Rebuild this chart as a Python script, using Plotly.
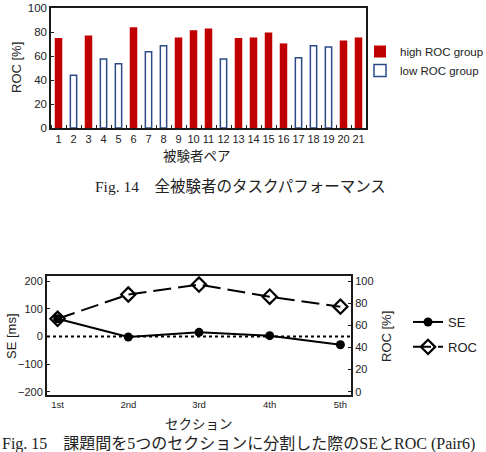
import plotly.graph_objects as go

# ---- data: Fig. 14 ----
pairs = list(range(1, 22))
roc_pair = [75, 44, 77, 57.5, 53.5, 84, 63.5, 68.5, 75.5, 81.5, 83, 57.5,
            75, 75.5, 79.5, 70.5, 58.5, 68.5, 67.5, 73, 75.5]
group = ["high", "low", "high", "low", "low", "high", "low", "low", "high", "high",
         "high", "low", "high", "high", "high", "high", "low", "low", "low", "high", "high"]
yticks_top = [0, 20, 40, 60, 80, 100]

# ---- data: Fig. 15 ----
sections = ["1st", "2nd", "3rd", "4th", "5th"]
se_ms = [64, -2, 15, 3, -30]
roc_sec = [66, 88, 97, 86, 77]
se_ticks = [-200, -100, 0, 100, 200]
roc_ticks = [0, 20, 40, 60, 80, 100]

W, H = 486, 452
def px(x): return x / W
def py(y): return 1 - y / H

SANS = "Liberation Sans, Arial, sans-serif"
JP = "Noto Sans CJK JP"
SERIF = "Liberation Serif, Noto Sans CJK JP"
RED = "#C00000"
NAVY = "#2B4A86"
AX = "#1a1a1a"

fig = go.Figure()

hx = [p for p, g in zip(pairs, group) if g == "high"]
hy = [v for v, g in zip(roc_pair, group) if g == "high"]
lx = [p for p, g in zip(pairs, group) if g == "low"]
ly = [v for v, g in zip(roc_pair, group) if g == "low"]

fig.add_trace(go.Bar(x=hx, y=hy, name="high ROC group", width=0.5,
                     marker=dict(color=RED, line=dict(color=RED, width=0)),
                     xaxis="x", yaxis="y", legend="legend"))
fig.add_trace(go.Bar(x=lx, y=ly, name="low ROC group", width=0.42,
                     marker=dict(color="white", line=dict(color=NAVY, width=1.5)),
                     xaxis="x", yaxis="y", legend="legend"))

fig.add_trace(go.Scatter(x=sections, y=se_ms, name="SE", mode="lines+markers",
                         line=dict(color="black", width=2),
                         marker=dict(symbol="circle", size=9, color="black"),
                         xaxis="x2", yaxis="y2", legend="legend2", legendgroup="se"))
fig.add_trace(go.Scatter(x=sections, y=roc_sec, name="ROC", mode="lines+markers",
                         line=dict(color="black", width=2, dash="18px,7px"),
                         marker=dict(symbol="diamond-open", size=11, color="black",
                                     line=dict(width=2.2, color="black")),
                         xaxis="x2", yaxis="y3", legend="legend2", legendgroup="roc"))

fig.add_shape(type="line", xref="x2 domain", yref="y2", x0=0, x1=1, y0=0, y1=0,
              line=dict(color="black", width=2, dash="dot"))

tickfont = dict(family=SANS, size=11, color="#222")
fig.update_layout(
    width=W, height=H, margin=dict(l=0, r=0, t=0, b=0, autoexpand=False),
    paper_bgcolor="white", plot_bgcolor="white", barmode="overlay",
    xaxis=dict(domain=[px(51), px(366)], range=[0.5, 21.5], tickmode="array",
               tickvals=pairs, ticks="", showgrid=False, zeroline=False,
               showline=True, mirror=True, linecolor=AX, linewidth=1.5,
               tickfont=tickfont, tickangle=0, ticklabelstandoff=0,
               automargin=False,
               minor=dict(ticks="inside", tick0=0.5, dtick=1, ticklen=3,
                          tickcolor=AX, showgrid=False)),
    yaxis=dict(domain=[py(128), py(8)], range=[0, 100], tickvals=yticks_top,
               ticks="inside", ticklen=3, tickcolor=AX, showgrid=False,
               zeroline=False, showline=True, mirror=True, linecolor=AX,
               linewidth=1.5, tickfont=dict(family=SANS, size=11.5, color="#222"),
               automargin=False),
    xaxis2=dict(domain=[px(47), px(351)], range=[-0.15, 4.15], type="category",
                ticks="", showgrid=False, zeroline=False, showline=True,
                mirror=True, linecolor=AX, linewidth=2, automargin=False,
                tickfont=dict(family=SANS, size=9.5, color="#222"), anchor="y2"),
    yaxis2=dict(domain=[py(395), py(276)], range=[-212, 219], tickvals=se_ticks,
                ticks="inside", ticklen=3, tickcolor=AX, showgrid=False,
                zeroline=False, showline=True, linecolor=AX, linewidth=2,
                automargin=False,
                tickfont=dict(family=SANS, size=11, color="#222"), anchor="x2"),
    yaxis3=dict(range=[-3, 104.75], tickvals=roc_ticks, overlaying="y2",
                side="right", anchor="x2", ticks="inside", ticklen=3,
                tickcolor=AX, showgrid=False, zeroline=False, showline=True,
                linecolor=AX, linewidth=2, automargin=False,
                tickfont=dict(family=SANS, size=11, color="#222")),
    legend=dict(x=px(360), y=py(37), xanchor="left", yanchor="top",
                font=dict(family=SANS, size=11.5, color="#222"),
                bgcolor="rgba(0,0,0,0)", itemwidth=30, tracegroupgap=0),
    legend2=dict(x=px(408), y=py(307), xanchor="left", yanchor="top",
                 font=dict(family=SANS, size=13, color="#222"),
                 bgcolor="rgba(0,0,0,0)", itemwidth=30, tracegroupgap=5),
    showlegend=True,
)

ann = [
    dict(text="ROC [%]", x=px(16), y=py(68), textangle=-90,
         font=dict(family=SANS, size=13, color="#222")),
    dict(text="被験者ペア", x=px(197), y=py(155),
         font=dict(family=JP, size=13.5, color="#222")),
    dict(text="Fig. 14　全被験者のタスクパフォーマンス", x=px(93), y=py(187),
         xanchor="left", font=dict(family=SERIF, size=15.5, color="#222")),
    dict(text="SE [ms]", x=px(11), y=py(336), textangle=-90,
         font=dict(family=SANS, size=13, color="#222")),
    dict(text="ROC [%]", x=px(386), y=py(337), textangle=-90,
         font=dict(family=SANS, size=13, color="#222")),
    dict(text="セクション", x=px(199), y=py(423),
         font=dict(family=JP, size=13.5, color="#222")),
    dict(text="Fig. 15　課題間を5つのセクションに分割した際のSEとROC (Pair6)",
         x=px(0), y=py(444), xanchor="left", yanchor="middle",
         font=dict(family=SERIF, size=16, color="#222")),
]
for a in ann:
    a.setdefault("xref", "paper"); a.setdefault("yref", "paper")
    a.setdefault("showarrow", False)
    a.setdefault("xanchor", "center"); a.setdefault("yanchor", "middle")
fig.update_layout(annotations=ann)

fig.write_html("out.html")
